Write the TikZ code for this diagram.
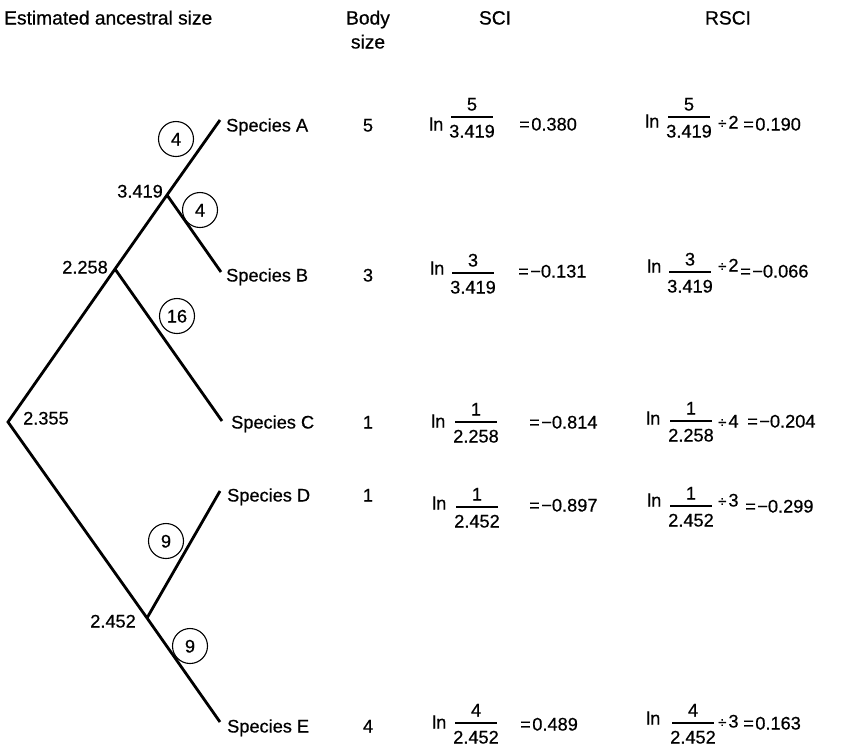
\documentclass[tikz,border=0pt]{standalone}
\usepackage{fontspec}
\setmainfont{Liberation Sans}[FakeBold=0.6]

% "ln" followed by a stacked fraction: name, ln x, ln y, fraction x, bar y, numerator, denominator
\newcommand\lnratio[7]{%
  \node[lbl,anchor=west] (#1ln) at (#2,#3) {ln};
  \node[lbl] (#1num) at (#4,#5-13) {#6};
  \node[lbl] (#1den) at (#4,#5+14) {#7};
  \draw[fracbar] ([xshift=2pt,yshift=7.5pt]#1den.north west) -- ([xshift=-2pt,yshift=7.5pt]#1den.north east);
}
\newcommand\divby[1]{{\fontsize{15}{15}\selectfont ÷}\kern2pt#1}

\begin{document}
\begin{tikzpicture}[x=1pt,y=-1pt,
  lbl/.style={inner sep=0pt, text height=13pt, text depth=0pt, font=\fontsize{18.2}{22}\selectfont},
  head/.style={lbl, font=\fontsize{19.2}{23}\selectfont},
  branch/.style={line width=2.8pt, line join=miter, line cap=butt},
  tally/.style={lbl, draw, circle, line width=1.1pt, minimum size=35pt},
  fracbar/.style={line width=1.6pt}]

\useasboundingbox (0,0) rectangle (842,748);

% column headings
\node[head,anchor=west] (hAnc) at (4,18) {Estimated ancestral size};
\node[head] (hBody) at (368,18) {Body};
\node[head] (hSize) at (368,42) {size};
\node[head] (hSCI) at (495,18) {SCI};
\node[head] (hRSCI) at (728,18) {RSCI};

% tree vertices
\coordinate (root) at (8,422);
\coordinate (n1) at (115,269);
\coordinate (n2) at (167,195);
\coordinate (n3) at (147,618);
\coordinate (tA) at (220,120);
\coordinate (tB) at (221,272);
\coordinate (tC) at (222,421);
\coordinate (tD) at (220,491);
\coordinate (tE) at (220,722);

% branches
\draw[branch] (tA) -- (n2) -- (n1) -- (root) -- (n3) -- (tE);
\draw[branch] (n2) -- (tB);
\draw[branch] (n1) -- (tC);
\draw[branch] (n3) -- (tD);

% ancestral size estimates
\node[lbl,anchor=east] (v3419) at (163,191) {3.419};
\node[lbl,anchor=east] (v2258) at (108,267) {2.258};
\node[lbl,anchor=west] (v2355) at (23,418) {2.355};
\node[lbl,anchor=east] (v2452) at (136,621) {2.452};

% branch weights
\node[tally] (cA) at (176,139) {4};
\node[tally] (cB) at (200,210) {4};
\node[tally] (cC) at (177,316) {16};
\node[tally] (cD) at (166,541) {9};
\node[tally] (cE) at (190,646) {9};

% species
\node[lbl,anchor=west] (spA) at (226,125) {Species A};
\node[lbl,anchor=west] (spB) at (226,275) {Species B};
\node[lbl,anchor=west] (spC) at (231,422) {Species C};
\node[lbl,anchor=west] (spD) at (227,495) {Species D};
\node[lbl,anchor=west] (spE) at (227,726) {Species E};

% body sizes
\node[lbl] (bA) at (368,125) {5};
\node[lbl] (bB) at (368,275) {3};
\node[lbl] (bC) at (368,422) {1};
\node[lbl] (bD) at (368,495) {1};
\node[lbl] (bE) at (368,726) {4};

% SCI column
\lnratio{sA}{429}{124}{472}{117}{5}{3.419}
\node[lbl,anchor=west] (sAv) at (519,124) {=\kern1.5pt 0.380};
\lnratio{sB}{430}{268}{473}{273}{3}{3.419}
\node[lbl,anchor=west] (sBv) at (518,271) {=\kern1.5pt−0.131};
\lnratio{sC}{431}{421}{476}{422}{1}{2.258}
\node[lbl,anchor=west] (sCv) at (529,422) {=\kern1.5pt−0.814};
\lnratio{sD}{432}{503}{477}{507}{1}{2.452}
\node[lbl,anchor=west] (sDv) at (529,505) {=\kern1.5pt−0.897};
\lnratio{sE}{432}{722}{476}{723}{4}{2.452}
\node[lbl,anchor=west] (sEv) at (520,724) {=\kern1.5pt 0.489};

% RSCI column
\lnratio{rA}{645}{121}{689}{117}{5}{3.419}
\node[lbl,anchor=west] (rAd) at (718,122) {\divby{2}};
\node[lbl,anchor=west] (rAv) at (743,124) {=\kern1.5pt 0.190};
\lnratio{rB}{647}{266}{690}{272}{3}{3.419}
\node[lbl,anchor=west] (rBd) at (718,265) {\divby{2}};
\node[lbl,anchor=west] (rBv) at (740,271) {=\kern1.5pt−0.066};
\lnratio{rC}{646}{418}{691}{421}{1}{2.258}
\node[lbl,anchor=west] (rCd) at (718,421) {\divby{4}};
\node[lbl,anchor=west] (rCv) at (747,421) {=\kern1.5pt−0.204};
\lnratio{rD}{647}{500}{691}{506}{1}{2.452}
\node[lbl,anchor=west] (rDd) at (718,500) {\divby{3}};
\node[lbl,anchor=west] (rDv) at (745,506) {=\kern1.5pt−0.299};
\lnratio{rE}{646}{718}{693}{723}{4}{2.452}
\node[lbl,anchor=west] (rEd) at (718,721) {\divby{3}};
\node[lbl,anchor=west] (rEv) at (743,723) {=\kern1.5pt 0.163};

\end{tikzpicture}
\end{document}
